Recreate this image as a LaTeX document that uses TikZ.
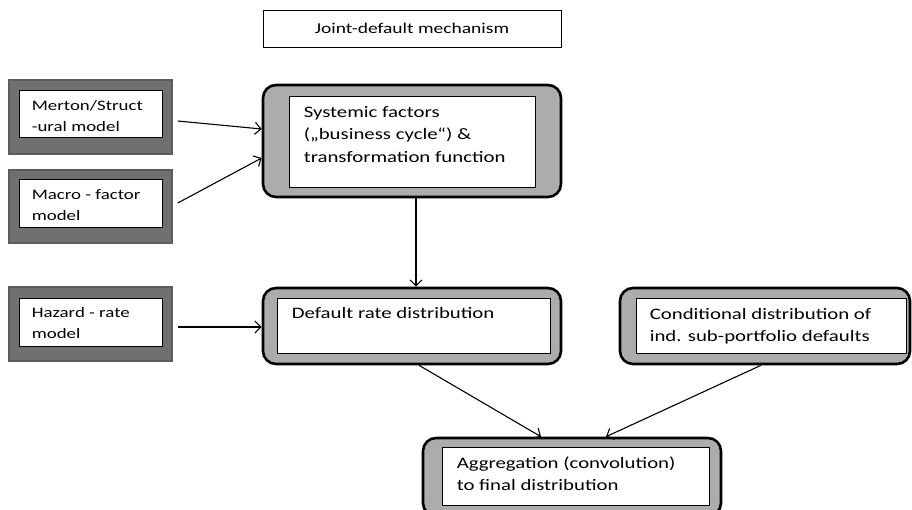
\documentclass[tikz,border=0pt]{standalone}
\usepackage{fontspec}
\setmainfont{Carlito}[FakeStretch=1.3]
\usetikzlibrary{arrows.meta}

\definecolor{modelgray}{RGB}{112,112,112}
\definecolor{modeledge}{RGB}{92,92,92}
\definecolor{stagegray}{RGB}{172,172,172}

\tikzset{
  modelbox/.style={draw=modeledge, line width=1.5pt, fill=modelgray, minimum width=163pt, inner sep=0pt},
  stagebox/.style={draw=black, line width=2.6pt, fill=stagegray, rounded corners=13pt, inner sep=0pt},
  innerbox/.style={draw=black, line width=0.8pt, fill=white, inner sep=0pt},
  boxtext/.style={anchor=north west, inner sep=0pt, align=left, font=\fontsize{16}{22.5}\selectfont},
  smalltext/.style={anchor=north west, inner sep=0pt, align=left, font=\fontsize{14.5}{21}\selectfont},
  link/.style={->, line width=1.1pt}
}

\begin{document}
\begin{tikzpicture}[x=1pt, y=-1pt, >={Straight Barb[length=6pt,width=12pt]}]
  \useasboundingbox (0,0) rectangle (912,509);

  % title
  \node[draw=black, line width=0.8pt, minimum width=298pt, minimum height=37pt,
        font=\fontsize{15}{18}\selectfont] (title) at (412,28.5) {Joint-default mechanism};

  % model boxes on the left
  \node[modelbox, minimum height=74pt] (merton) at (90.5,117) {};
  \node[innerbox, minimum width=143pt, minimum height=47pt] (mertonin) at (90.5,113.5) {};
  \node[smalltext] (mertontext) at ([shift={(13pt,-10.5pt)}]mertonin.north west) {Merton/Struct\\-ural model};

  \node[modelbox, minimum height=73pt] (macro) at (90.5,206.5) {};
  \node[innerbox, minimum width=143pt, minimum height=48pt] (macroin) at (90.5,203) {};
  \node[smalltext] (macrotext) at ([shift={(13pt,-10.5pt)}]macroin.north west) {Macro - factor\\model};

  \node[modelbox, minimum height=74pt] (hazard) at (90.5,324) {};
  \node[innerbox, minimum width=143pt, minimum height=48pt] (hazardin) at (90.5,322) {};
  \node[smalltext] (hazardtext) at ([shift={(13pt,-9.5pt)}]hazardin.north west) {Hazard - rate\\model};

  % stages
  \node[stagebox, minimum width=298pt, minimum height=112pt] (sys) at (412,141) {};
  \node[innerbox, minimum width=246pt, minimum height=91pt] (sysin) at (412,141.5) {};
  \node[boxtext] (systext) at ([shift={(15pt,-10.5pt)}]sysin.north west)
    {Systemic factors\\(„business cycle“) \&\\transformation function};

  \node[stagebox, minimum width=298pt, minimum height=76pt] (def) at (412,326) {};
  \node[innerbox, minimum width=273pt, minimum height=55pt] (defin) at (413.5,325.5) {};
  \node[boxtext] (deftext) at ([shift={(15pt,-9.5pt)}]defin.north west) {Default rate distribution};

  \node[stagebox, minimum width=290pt, minimum height=76pt] (cond) at (765,326) {};
  \node[innerbox, minimum width=270pt, minimum height=55pt] (condin) at (771,325.5) {};
  \node[boxtext] (condtext) at ([shift={(14pt,-10.5pt)}]condin.north west)
    {Conditional distribution of\\ind. sub-portfolio defaults};

  \node[stagebox, minimum width=298pt, minimum height=78pt] (agg) at (572,477) {};
  \node[innerbox, minimum width=267pt, minimum height=58pt] (aggin) at (575.5,476) {};
  \node[boxtext] (aggtext) at ([shift={(15pt,-9.5pt)}]aggin.north west)
    {Aggregation (convolution)\\to final distribution};

  % connectors
  \draw[link] ([shift={(5pt,-4pt)}]merton.east) -- ([yshift=12pt]sys.west);
  \draw[link] ([shift={(5pt,3.5pt)}]macro.east) -- ([yshift=-17pt]sys.west);
  \draw[link] ([xshift=4pt]sys.south) -- ([xshift=4pt]def.north);
  \draw[link] ([shift={(5pt,-3pt)}]hazard.east) -- ([yshift=-1pt]def.west);
  \draw[link] ([xshift=7pt]def.south) -- ([xshift=-31pt]agg.north);
  \draw[link] ([xshift=-4pt]cond.south) -- ([xshift=34pt]agg.north);
\end{tikzpicture}
\end{document}
